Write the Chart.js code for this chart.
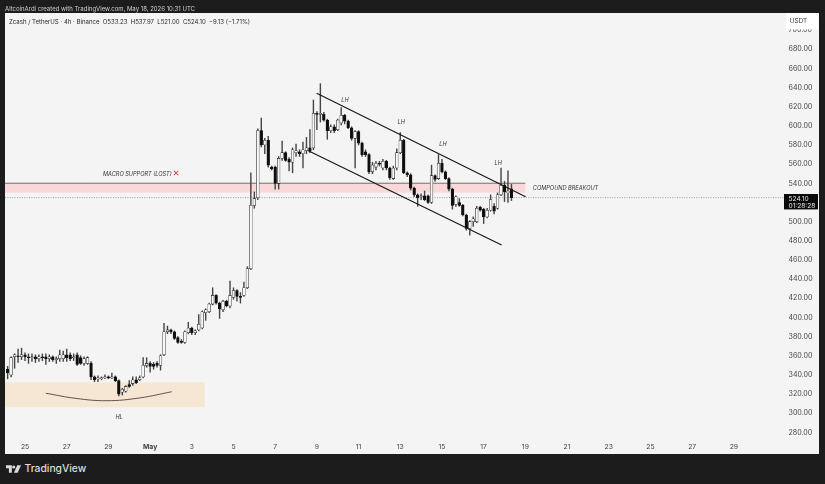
<!DOCTYPE html>
<html><head><meta charset="utf-8">
<script src="https://cdn.jsdelivr.net/npm/chart.js@4"></script>
<style>
html,body{margin:0;padding:0;width:825px;height:484px;overflow:hidden;background:#1c1c1c;font-family:Inter,"Noto Sans",sans-serif}
#panel{position:absolute;left:5px;top:13px;width:814px;height:441px;background:#f4f4f4}
#chart{position:absolute;left:0;top:0;filter:blur(0.35px)}
#head{position:absolute;left:5px;top:3.5px;font-size:6px;line-height:9px;color:#d0d0d0;white-space:nowrap;filter:blur(0.25px)}
#legend{position:absolute;left:9px;top:16.5px;font-size:6.05px;line-height:9px;color:#2a2a2a;white-space:nowrap;filter:blur(0.25px)}
#legend span{margin-left:1.5px}
#logo{position:absolute;left:6px;top:464.5px}
#brand{position:absolute;left:24.5px;top:461px;font-size:10.3px;line-height:15px;font-weight:500;color:#dcdcdc;white-space:nowrap}
</style></head><body>
<div id="panel"><canvas id="chart" width="814" height="441" style="width:814px;height:441px"></canvas></div>
<div id="head">AltcoinArdi created with TradingView.com, May 18, 2026 10:31 UTC</div>
<div id="legend">Zcash / TetherUS · 4h · Binance <span>O533.23</span> <span>H537.97</span> <span>L521.00</span> <span>C524.10</span> <span>−9.13 (−1.71%)</span></div>
<svg id="logo" width="15" height="9" viewBox="0 0 36 20"><path fill="#dcdcdc" d="M0 0h14v18H7V7H0z"/><circle cx="18.5" cy="4" r="3.8" fill="#dcdcdc"/><path fill="#dcdcdc" d="M27 0h9l-8 18h-9z"/></svg>
<div id="brand">TradingView</div>
<script>
const opens = [
345,339,358,359,358,360,358,357,358,356,
358,358,356,358,355,356,356,360,360,357,
360,357,351,351,351,337,335,335,336,337,
336,337,333,321,322,329,330,334,334,337,
349,351,350,351,349,360,384,386,384,378,
374,373,383,388,383,386,388,404,405,413,
422,414,407,416,411,420,427,421,422,430,
450,516,524,594,579,584,556,556,539,565,
571,564,561,571,572,570,573,576,576,612,
611,611,605,594,598,595,602,610,604,597,
586,593,581,572,569,551,556,560,555,562,
555,544,555,571,584,550,548,534,527,525,
526,526,519,547,544,560,551,544,533,517,
519,516,506,492,499,499,514,512,504,511,
515,513,527,537,529,533.23];
const highs = [
348,358,361,366,367,362,361,361,360,360,
361,361,360,359,358,365,364,366,362,361,
362,359,358,358,353,338,338,337,339,338,
341,338,334,325,328,333,337,337,338,357,
357,353,352,353,360,393,390,387,385,379,
376,385,394,389,386,402,406,408,414,430,
423,415,417,417,437,430,428,425,436,452,
550,530,596,607,586,588,557,557,567,583,
572,566,576,580,574,582,587,595,626,614,
643,613,606,600,600,606,618,611,605,598,
594,594,582,574,570,561,562,562,564,563,
556,557,575,592,585,551,549,535,528,528,
531,527,558,548,569,564,552,545,534,526,
523,517,507,500,504,515,515,513,513,527,
518,529,555,541,552,537.97];
const lows = [
335,337,346,352,355,354,351,353,352,353,
354,350,353,353,351,353,353,353,354,354,
349,350,349,350,334,332,332,334,335,335,
335,332,317,318,321,326,328,330,333,336,
347,342,345,347,344,359,382,382,376,372,
372,372,382,381,381,385,387,396,404,412,
413,398,405,410,409,418,416,414,421,429,
449,513,522,577,570,556,553,533,533,563,
562,552,550,567,567,555,570,571,574,595,
603,604,585,592,592,594,600,601,596,584,
555,579,567,567,549,549,553,557,553,553,
543,543,553,570,549,546,532,525,515,522,
521,518,518,541,543,550,543,531,512,515,
515,505,490,485,494,498,510,497,503,510,
507,512,526,520,519,521];
const closes = [
341,357,360,358,360,358,357,358,356,358,
357,356,358,355,356,360,360,357,356,358,
350,351,356,357,337,334,336,336,337,336,
337,333,319,324,327,327,334,331,336,349,
351,348,348,349,359,384,386,384,377,373,
373,384,388,383,385,392,405,407,413,422,
414,408,416,411,422,427,421,420,430,450,
516,523,594,579,584,558,554,539,565,571,
563,561,574,573,570,574,576,573,612,611,
612,605,594,598,594,605,610,604,597,586,
593,581,569,569,551,558,560,559,562,555,
545,555,571,584,550,548,534,527,524,526,
522,519,547,543,560,551,544,533,516,525,
516,506,492,499,502,513,511,504,511,522,
510,527,537,530,531,524.10];
const firstCandleDay = -5/6;           // days after 25 Apr 00:00
const tickLabels = ['25','27','29','May','3','5','7','9','11','13','15','17','19','21','23','25','27','29'];
const priceTicksMin = 280, priceTicksMax = 700;
const lastPrice = 524.10;
const supportZone = [529.3, 539.1];
const baseZone = [305.3, 331.3];
const upperChannelDays = [13.99, 24.01], upperChannelPrices = [633.0, 525.1];
const lowerChannelDays = [13.59, 22.86], lowerChannelPrices = [573.1, 474.7];
const curveDays = [1.0, 2.45, 3.93, 5.5, 7.04], curvePrices = [319.9, 314.5, 312.1, 315.0, 321.5];

const dayMin = -0.96, dayMax = 36.55;
const pointsOf = (a, b) => a.map((v, i) => ({ x: v, y: b[i] }));
const dayOf = i => firstCandleDay + i / 6;
const wicks = lows.map((l, i) => ({ x: dayOf(i), y: [l, highs[i]] }));
const bodies = opens.map((o, i) => ({ x: dayOf(i), y: [o, closes[i]] }));
const isDown = ctx => opens[ctx.dataIndex] > closes[ctx.dataIndex];

const notes = [
  { t: 'LH', d: 15.35, p: 626, a: 'center' },
  { t: 'LH', d: 18.05, p: 603, a: 'center' },
  { t: 'LH', d: 20.05, p: 580, a: 'center' },
  { t: 'LH', d: 22.7, p: 560, a: 'center' },
  { t: 'MACRO SUPPORT (LOST)', d: 3.74, p: 548.8, a: 'left' },
  { t: 'COMPOUND BREAKOUT', d: 24.36, p: 534.2, a: 'left' },
  { t: 'HL', d: 4.51, p: 294.5, a: 'center' }
];
const zeroPad = s => { s.paddingLeft = s.paddingRight = s.paddingTop = s.paddingBottom = 0; };

const decor = {
  id: 'decor',
  beforeDatasetsDraw(c) {
    const g = c.ctx, x = c.scales.x, y = c.scales.y;
    const L = c.chartArea.left;
    g.save();
    g.fillStyle = '#f6e6d4';
    g.fillRect(L, y.getPixelForValue(baseZone[1]), x.getPixelForValue(8.62) - L, y.getPixelForValue(baseZone[0]) - y.getPixelForValue(baseZone[1]));
    const zx = x.getPixelForValue(24.0);
    g.fillStyle = '#f8d8d9';
    g.fillRect(L, y.getPixelForValue(supportZone[1]), zx - L, y.getPixelForValue(supportZone[0]) - y.getPixelForValue(supportZone[1]));
    g.strokeStyle = '#6e5f5f'; g.lineWidth = 0.9;
    g.beginPath(); g.moveTo(L, y.getPixelForValue(supportZone[1])); g.lineTo(zx, y.getPixelForValue(supportZone[1])); g.stroke();
    g.restore();
  },
  afterDraw(c) {
    const g = c.ctx, x = c.scales.x, y = c.scales.y;
    g.save();
    g.fillStyle = '#333';
    g.font = 'italic 5.6px Inter, "Noto Sans", sans-serif';
    g.textBaseline = 'middle';
    notes.forEach(n => { g.textAlign = n.a; g.fillText(n.t, x.getPixelForValue(n.d), y.getPixelForValue(n.p)); });
    // lost-support cross
    g.fillStyle = '#d8333a';
    g.font = 'bold 8.5px "DejaVu Sans"';
    g.textAlign = 'center';
    g.fillText('✕', x.getPixelForValue(7.24), y.getPixelForValue(549));
    // USDT header box
    const R = c.chartArea.right;
    g.fillStyle = '#ffffff';
    g.fillRect(R - 1, 0, 32, 16.5);
    g.fillStyle = '#333';
    g.font = '6.4px Inter, "Noto Sans", sans-serif';
    g.textAlign = 'center';
    g.fillText('USDT', R + 11.5, 8.5);
    // last-price tag
    const py = y.getPixelForValue(lastPrice);
    g.fillStyle = '#0a0a0a';
    g.fillRect(R - 3, py - 3.6, 34, 15.4);
    g.fillStyle = '#e8e8e8';
    g.font = '6.6px Inter, "Noto Sans", sans-serif';
    g.textAlign = 'left';
    g.fillText(lastPrice.toFixed(2), R + 1.5, py + 1);
    g.fillText('01:28:28', R + 1.5, py + 8);
    g.restore();
  }
};

new Chart(document.getElementById('chart'), {
  type: 'bar',
  data: {
    datasets: [
      { type: 'line', label: 'upper channel', data: pointsOf(upperChannelDays, upperChannelPrices), borderColor: '#161616', borderWidth: 1.15, pointRadius: 0, order: 1 },
      { type: 'line', label: 'lower channel', data: pointsOf(lowerChannelDays, lowerChannelPrices), borderColor: '#161616', borderWidth: 1.15, pointRadius: 0, order: 1 },
      { type: 'line', label: 'rounded base', data: pointsOf(curveDays, curvePrices), borderColor: '#3a3128', borderWidth: 0.8, pointRadius: 0, tension: 0.4, order: 1 },
      { type: 'line', label: 'last price', data: [{ x: dayMin, y: lastPrice }, { x: dayMax, y: lastPrice }], borderColor: '#8a8a8a', borderWidth: 0.8, borderDash: [1, 1.4], pointRadius: 0, order: 4 },
      { label: 'bodies', data: bodies, barThickness: 2.7, grouped: false, borderSkipped: false, borderWidth: 0.55, borderColor: '#1a1a1a',
        backgroundColor: ctx => isDown(ctx) ? '#0d0d0d' : '#f7f7f7', order: 2 },
      { label: 'wicks', data: wicks, barThickness: 0.75, grouped: false, borderWidth: 0, backgroundColor: '#444', order: 3 }
    ]
  },
  options: {
    responsive: false, animation: false, devicePixelRatio: 1,
    layout: { padding: 0 },
    plugins: { legend: { display: false }, title: { display: false }, tooltip: { enabled: false } },
    scales: {
      x: {
        type: 'linear', offset: false, min: dayMin, max: dayMax,
        grid: { display: false, drawTicks: false }, border: { display: false },
        afterFit: s => { s.height = 14; zeroPad(s); },
        ticks: {
          stepSize: 2, includeBounds: false, autoSkip: false, maxRotation: 0, padding: 3,
          color: '#444',
          font: ctx => ({ size: 6.8, family: 'Inter, "Noto Sans", sans-serif', weight: tickLabels[ctx.index] === 'May' ? '700' : '400' }),
          callback: v => tickLabels[v / 2] ?? ''
        }
      },
      y: {
        position: 'right', min: 271.1, max: 716.8,
        grid: { display: false, drawTicks: false }, border: { display: false },
        afterFit: s => { s.width = 32; zeroPad(s); },
        ticks: {
          stepSize: 20, includeBounds: false, padding: 1.5, color: '#444', labelOffset: 1,
          font: { size: 7.1, family: 'Inter, "Noto Sans", sans-serif' },
          callback: v => (v >= priceTicksMin && v <= priceTicksMax) ? v.toFixed(2) : ''
        }
      }
    }
  },
  plugins: [decor]
});
</script>
</body></html>
